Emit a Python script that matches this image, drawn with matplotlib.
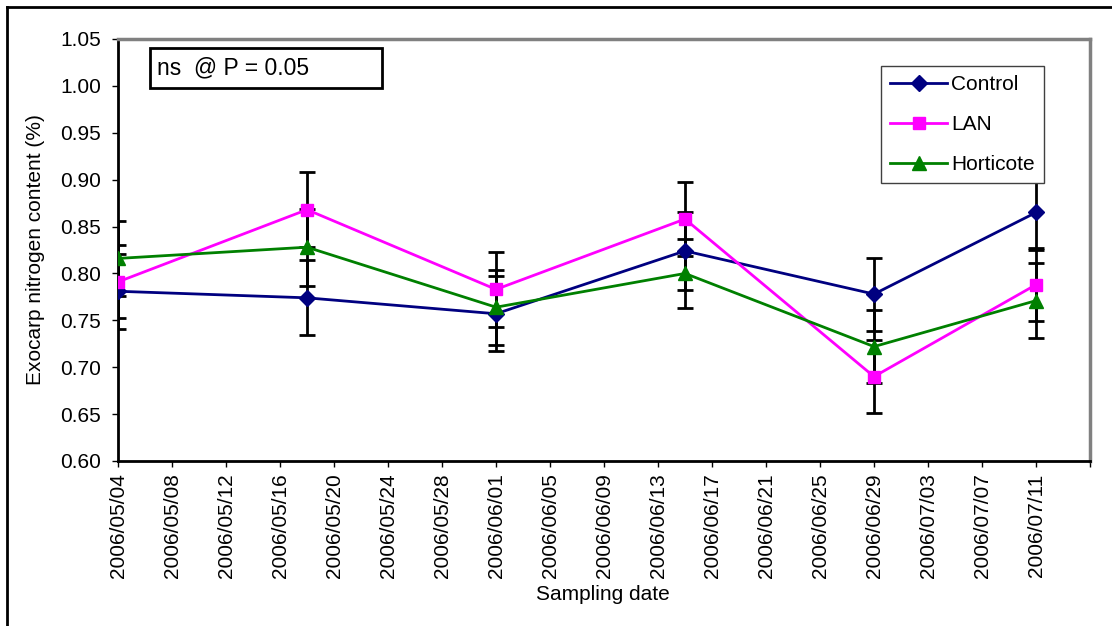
import numpy as np
import pandas as pd
import matplotlib
matplotlib.use('Agg')
import matplotlib.pyplot as plt
import matplotlib.dates as mdates
from matplotlib.patches import Rectangle
from matplotlib.lines import Line2D

plt.rcParams['font.family'] = ['Liberation Sans', 'DejaVu Sans']

# sampling dates and treatment means (%), with error bar half-widths
dates = pd.to_datetime(['2006-05-04', '2006-05-18', '2006-06-01',
                        '2006-06-15', '2006-06-29', '2006-07-11'])
control = [0.781, 0.774, 0.757, 0.824, 0.778, 0.865]
control_err = [0.040, 0.040, 0.040, 0.042, 0.039, 0.040]
lan = [0.791, 0.868, 0.783, 0.858, 0.690, 0.788]
lan_err = [0.039, 0.040, 0.040, 0.039, 0.039, 0.039]
horticote = [0.816, 0.828, 0.764, 0.800, 0.722, 0.771]
horticote_err = [0.040, 0.041, 0.040, 0.037, 0.039, 0.040]

tick_dates = pd.date_range('2006-05-04', '2006-07-15', freq='4D')
tick_labels = [d.strftime('%Y/%m/%d') for d in tick_dates[:-1]] + ['']
yticks = [0.60, 0.65, 0.70, 0.75, 0.80, 0.85, 0.90, 0.95, 1.00, 1.05]

fig = plt.figure(figsize=(11.12, 6.26), dpi=100)
ax = fig.add_axes([118/1112, 1-461/626, 972/1112, 422/626])

series = [
    ('Control', control, control_err, '#000080', 'D', 8),
    ('LAN', lan, lan_err, '#FF00FF', 's', 9),
    ('Horticote', horticote, horticote_err, '#008000', '^', 10),
]
for name, vals, err, col, mk, ms in series:
    ax.errorbar(dates, vals, yerr=err, fmt='none', ecolor='black',
                elinewidth=2, capsize=6, capthick=2, zorder=2)
for name, vals, err, col, mk, ms in series:
    ax.plot(dates, vals, color=col, marker=mk, markersize=ms, lw=2,
            label=name, zorder=3)

ax.set_xlim(tick_dates[0], tick_dates[-1])
ax.set_ylim(0.60, 1.05)
ax.set_xticks(tick_dates)
ax.set_xticklabels(tick_labels, rotation=90, fontsize=15)
ax.set_yticks(yticks)
ax.set_yticklabels(['%.2f' % v for v in yticks], fontsize=15)
ax.tick_params(axis='both', direction='out', length=4, width=1, color='black')
ax.tick_params(axis='y', pad=8)
ax.tick_params(axis='x', pad=5)

for s in ['left', 'bottom']:
    ax.spines[s].set_color('black')
    ax.spines[s].set_linewidth(2)
for s in ['top', 'right']:
    ax.spines[s].set_color('#808080')
    ax.spines[s].set_linewidth(2.5)

ax.set_ylabel('Exocarp nitrogen content (%)', fontsize=15)
ax.yaxis.set_label_coords(-73/972, 0.5)
ax.set_xlabel('Sampling date', fontsize=15)
ax.xaxis.set_label_coords(0.499, -124/422)

# significance note box
ax.add_patch(Rectangle((32/972, 373/422), 232/972, 40/422, transform=ax.transAxes,
                       fill=False, edgecolor='black', lw=2, zorder=5))
ax.text(39/972, 393/422, 'ns  @ P = 0.05', transform=ax.transAxes,
        fontsize=16.5, va='center', ha='left', zorder=5)

leg = ax.legend(loc='upper left', bbox_to_anchor=(763/972, 395/422), fontsize=15,
                frameon=True, fancybox=False, framealpha=1, edgecolor='#404040',
                handlelength=2.7, labelspacing=1.0, borderpad=0.45,
                handletextpad=0.2, borderaxespad=0)
leg.get_frame().set_linewidth(1)
leg.set_zorder(6)

# outer chart border (left and top edges in view)
fig.add_artist(Line2D([7/1112, 7/1112], [0, 1-7/626], color='black', lw=2))
fig.add_artist(Line2D([7/1112, 1], [1-7/626, 1-7/626], color='black', lw=2))

fig.savefig('out.png', dpi=100)
